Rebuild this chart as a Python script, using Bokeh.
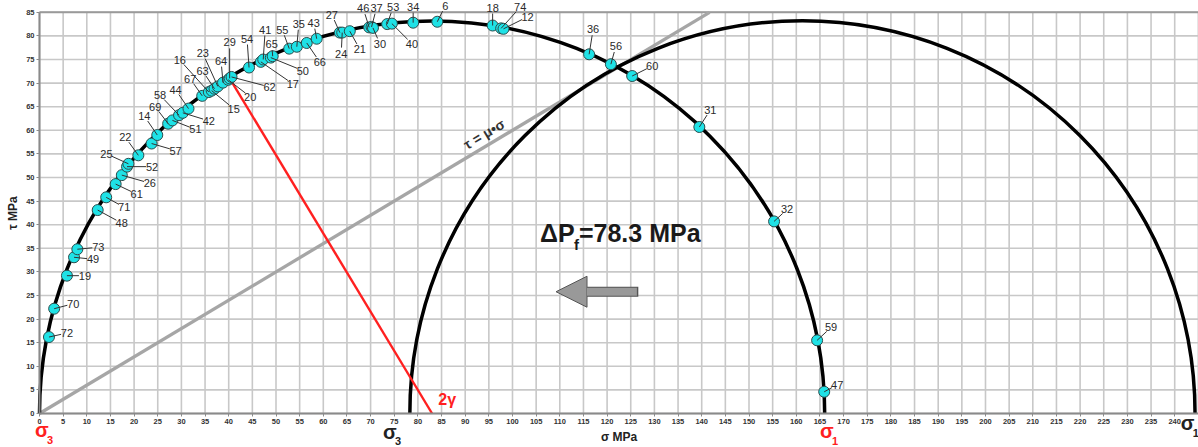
from bokeh.plotting import figure
from bokeh.models import (Range1d, FixedTicker, ColumnDataSource, Label, LabelSet,
                          Arrow, NormalHead)
from bokeh.embed import file_html
from bokeh.resources import INLINE
from bokeh.core.properties import value
import numpy as np

# ---------------- data ----------------
mohr_sigma3 = [0.0, 78.3]      # MPa, original and shifted circle
mohr_sigma1 = [166.0, 244.3]
mu = 0.6                        # friction coefficient, tau = mu * sigma
delta_pf = 78.3
fracture_sigma = [83.0, 40.2]   # red 2-gamma line: circle centre -> fracture point
fracture_tau = [0.0, 71.0]

point_ids = [72, 70, 19, 49, 73, 48, 71, 61, 26, 52, 25, 22, 57, 14, 69, 51, 58, 42,
             44, 67, 16, 15, 63, 23, 64, 20, 29, 62, 54, 17, 41, 50, 65, 55, 35, 66,
             43, 27, 24, 21, 46, 37, 30, 53, 40, 34, 6, 18, 74, 12, 36, 56, 60, 31,
             32, 59, 47]
point_sigma = [2.0, 3.1, 5.8, 7.3, 8.0, 12.3, 14.1, 16.1, 17.4, 18.5, 18.8, 20.9, 23.7,
               24.9, 27.2, 28.1, 29.5, 30.3, 31.5, 34.4, 35.8, 36.4, 37.0, 37.7, 38.8,
               39.9, 40.2, 40.6, 44.3, 46.8, 47.3, 48.9, 49.3, 52.8, 54.4, 56.5, 58.6,
               63.5, 64.0, 65.6, 69.7, 70.2, 70.5, 73.5, 74.5, 79.0, 84.1, 95.8, 97.6,
               98.1, 116.2, 120.8, 125.3, 139.5, 155.3, 164.4, 165.9]
point_tau = [16.2, 22.2, 29.2, 33.1, 34.8, 43.1, 45.8, 48.6, 50.5, 52.3, 52.9, 54.7, 57.2,
             59.0, 61.4, 62.1, 63.2, 63.7, 64.6, 67.3, 68.1, 68.4, 68.8, 69.3, 70.1,
             70.7, 71.0, 71.3, 73.3, 74.5, 75.0, 75.4, 75.7, 77.3, 77.7, 78.5, 79.4,
             80.7, 80.7, 81.0, 81.8, 81.9, 81.7, 82.5, 82.6, 82.8, 83.0, 82.2, 81.6,
             81.5, 76.1, 74.0, 71.5, 60.7, 40.7, 15.5, 4.6]

x_ticks = list(range(0, 245, 5))   # 0 ... 240
y_ticks = list(range(0, 90, 5))    # 0 ... 85
x_max = 245
y_max = 85

# label placement (screen px, dx right, dy down) - layout only
label_offsets = [(18, -4), (19, -5), (18, 0), (19, 2), (21, -2), (24, 13), (18, 10),
                 (21, 10), (28, 8), (25, 0), (-22, -10), (-13, -18), (24, 7), (-13, -19),
                 (-13, -17), (23, 9), (-19, -20), (26, 8), (-13, -19), (-12, -17),
                 (-29, -32), (22, 18), (-12, -18), (-15, -33), (-2, -22), (22, 17),
                 (0, -36), (38, 10), (-2, -29), (32, 22), (2, -30), (32, 13), (-1, -12),
                 (-7, -19), (2, -23), (13, 19), (-3, -16), (-8, -18), (-1, 21), (10, 18),
                 (-6, -19), (5, -19), (7, 16), (6, -17), (20, 20), (0, -16), (8, -16),
                 (0, -18), (19, -21), (24, -12), (4, -25), (5, -18), (20, -10), (11, -17),
                 (13, -12), (14, -13), (13, -7)]

# ---------------- figure ----------------
W, H = 1198, 447
LEFT, BOTTOM = 39, 34            # pixels reserved for the axes
PX_X = 4.73                      # px per MPa
PX_Y = 4.72

p = figure(width=W, height=H,
           x_range=Range1d(-LEFT / PX_X, (W - LEFT) / PX_X),
           y_range=Range1d(-BOTTOM / PX_Y, (H - BOTTOM) / PX_Y),
           output_backend="svg", toolbar_location=None,
           min_border_left=0, min_border_right=0, min_border_top=0, min_border_bottom=0)
p.background_fill_color = "white"
p.border_fill_color = "white"
p.outline_line_color = None
p.xgrid.grid_line_color = None
p.ygrid.grid_line_color = None

# grid (drawn from the tick values)
gx = x_ticks + [x_max]
p.segment(x0=gx, y0=[0] * len(gx), x1=gx, y1=[y_max] * len(gx),
          line_color="#c8c8c8", line_width=1.6)
p.segment(x0=[0] * len(y_ticks), y0=y_ticks, x1=[x_max] * len(y_ticks), y1=y_ticks,
          line_color="#c8c8c8", line_width=1.6)
p.segment(x0=[0], y0=[y_max], x1=[x_max], y1=[y_max], line_color="#9a9a9a", line_width=2)

for ax, ticks, b in ((p.xaxis, x_ticks, (0, x_max)), (p.yaxis, y_ticks, (0, y_max))):
    ax.fixed_location = 0
    ax.bounds = b
    ax.ticker = FixedTicker(ticks=ticks)
    ax.axis_line_color = "#8a8a8a"
    ax.axis_line_width = 2
    ax.major_tick_line_color = "#8a8a8a"
    ax.major_tick_out = 3
    ax.major_tick_in = 0
    ax.minor_tick_line_color = None
    ax.major_label_text_font = "Liberation Sans"
    ax.major_label_text_font_size = "7.5px"
    ax.major_label_text_font_style = "bold"
    ax.major_label_text_color = "#333333"
    ax.major_label_standoff = 2
    ax.axis_label_text_font = "Liberation Sans"
    ax.axis_label_text_font_size = "12px"
    ax.axis_label_text_font_style = "bold"
    ax.axis_label_text_color = "#222222"
    ax.axis_label_standoff = 3
p.xaxis.axis_label = "σ MPa"
p.yaxis.axis_label = "τ MPa"

# friction line tau = mu * sigma
s_end = y_max / mu
p.line([0, s_end], [0, mu * s_end], line_color="#a6a6a6", line_width=3.3)

# Mohr circles (upper halves)
for s3, s1 in zip(mohr_sigma3, mohr_sigma1):
    c = (s1 + s3) / 2.0
    r = (s1 - s3) / 2.0
    p.arc(x=[c], y=[0], radius=r, start_angle=0, end_angle=np.pi,
          line_color="black", line_width=3.5)

# red 2-gamma line
p.line(fracture_sigma, fracture_tau, line_color="#ff2020", line_width=2.4)

# points
src = ColumnDataSource(dict(
    x=point_sigma, y=point_tau, lab=[str(i) for i in point_ids],
    dx=[o[0] for o in label_offsets], dy=[-o[1] for o in label_offsets]))
p.scatter("x", "y", source=src, size=11, fill_color="#1fe2e6",
          line_color="#2b4d4d", line_width=1)

# leader lines
x1, y1 = [], []
for sx, ty, (dx, dy) in zip(point_sigma, point_tau, label_offsets):
    L = max((dx * dx + dy * dy) ** 0.5, 1e-6)
    f = max(0.0, (L - 6.0) / L)
    x1.append(sx + dx * f / PX_X)
    y1.append(ty - dy * f / PX_Y)
p.segment(x0=point_sigma, y0=point_tau, x1=x1, y1=y1, line_color="#333333", line_width=1)

p.add_layout(LabelSet(x="x", y="y", text="lab", source=src, x_offset="dx", y_offset="dy",
                      text_font=value("Liberation Sans"), text_font_size="11px",
                      text_color="#2a2a2a", text_align="center",
                      text_baseline="middle"))

# friction label
p.add_layout(Label(x=94.0, y=59.2, text="τ = μ•σ", angle=np.arctan(mu * PX_Y / PX_X),
                   text_font="Liberation Sans", text_font_size="14px",
                   text_font_style="bold", text_color="#333333",
                   text_align="center", text_baseline="middle"))

# 2 gamma
p.add_layout(Label(x=84.3, y=1.1, text="2γ", text_font="Liberation Sans",
                   text_font_size="16px", text_font_style="bold", text_color="#ff2020"))

# Delta Pf
big = dict(text_font="Liberation Sans", text_font_style="bold", text_color="#1a1a1a")
p.add_layout(Label(x=105.8, y=35.3, text="ΔP", text_font_size="25px", **big))
p.add_layout(Label(x=105.8, y=35.3, x_offset=34, y_offset=-6, text="f",
                   text_font_size="15px", **big))
p.add_layout(Label(x=105.8, y=35.3, x_offset=39, text="=%.1f MPa" % delta_pf,
                   text_font_size="25px", **big))

# arrow
ay = 25.8
p.add_layout(Arrow(end=None, x_start=126.6, y_start=ay, x_end=115.0, y_end=ay,
                   line_color="#555555", line_width=10))
p.add_layout(Arrow(end=NormalHead(size=31, fill_color="#999999", line_color="#555555",
                                  line_width=1),
                   x_start=126.3, y_start=ay, x_end=109.2, y_end=ay,
                   line_color="#999999", line_width=8))

# sigma labels under the axis
def sig(x, y, txt, sub, color, sub_dy):
    p.add_layout(Label(x=x, y=y, text=txt, text_font="Liberation Sans",
                       text_font_size="20px", text_font_style="bold", text_color=color))
    p.add_layout(Label(x=x, y=y, x_offset=12, y_offset=sub_dy, text=sub,
                       text_font="Liberation Sans", text_font_size="11px",
                       text_font_style="bold", text_color=color))

sig(-0.95, -5.9, "σ", "3", "#ff2020", -3)
sig(72.6, -6.3, "σ", "3", "#222222", -2)
sig(165.0, -6.0, "σ", "1", "#ff2020", -3)
sig(241.3, -4.4, "σ", "1", "#222222", -3)

open("out.html", "w").write(file_html(p, INLINE))
